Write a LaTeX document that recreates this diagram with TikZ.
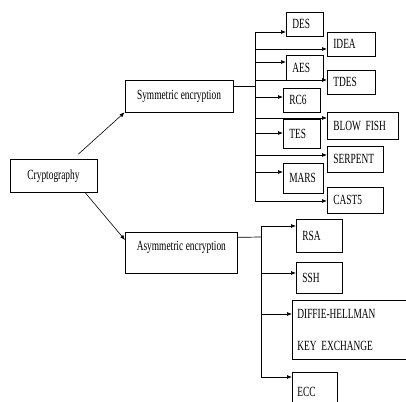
\documentclass[tikz,border=0pt]{standalone}
\usepackage{fontspec}
\setmainfont{Liberation Serif}[FakeStretch=0.67]
\usetikzlibrary{positioning, arrows.meta}

\newcommand\diagfont{\fontsize{14}{16}\selectfont\spaceskip=2.6pt\relax}
\tikzset{
  main/.style={draw, line width=0.7pt, inner sep=0pt},
  leaf/.style={draw, line width=0.7pt, anchor=north west, align=left, inner xsep=6pt, inner ysep=0pt},
  arr/.style={-{Latex[length=5pt,width=4pt]}, line width=0.7pt}
}

\begin{document}
\begin{tikzpicture}[x=1pt, y=-1pt, font=\diagfont]
\useasboundingbox (0,0) rectangle (406,401);
% main boxes
\node[main, minimum width=87pt, minimum height=33pt] (crypto) at (53.5,176) {Cryptography};
\node[main, minimum width=108pt, minimum height=32pt] (sym) at (179,96) {Symmetric encryption};
\node[main, anchor=north west, minimum width=112pt, text height=18pt, text depth=23pt] (asym) at (125,232) {Asymmetric encryption};
% symmetric ciphers
\node[leaf, text width=25pt, minimum height=24pt] (des) at (286,12) {DES};
\node[leaf, text width=36pt, minimum height=24pt] (idea) at (327,32) {IDEA};
\node[leaf, text width=25pt, minimum height=25pt] (aes) at (286,55) {AES};
\node[leaf, text width=36pt, minimum height=24pt] (tdes) at (327,70) {TDES};
\node[leaf, text width=25pt, minimum height=24pt] (rcsix) at (283,88) {RC6};
\node[leaf, text width=59pt, minimum height=27pt] (blowfish) at (327,112) {BLOW FISH};
\node[leaf, text width=25pt, minimum height=29pt] (tes) at (283,119) {TES};
\node[leaf, text width=44pt, minimum height=26pt] (serpent) at (327,146) {SERPENT};
\node[leaf, text width=28pt, minimum height=30pt] (mars) at (283,163) {MARS};
\node[leaf, text width=44pt, minimum height=26pt] (cast) at (327,187) {CAST5};
% asymmetric ciphers
\node[leaf, text width=34pt, minimum height=33pt] (rsa) at (296,219) {RSA};
\node[leaf, text width=34pt, minimum height=31pt] (ssh) at (296,262) {SSH};
\node[leaf, inner xsep=5pt, text width=110pt, minimum height=59pt] (dh) at (292,300) {DIFFIE-HELLMAN\\[16pt]KEY EXCHANGE};
\node[leaf, inner xsep=5pt, text width=35pt, minimum height=40pt] (ecc) at (292,372) {ECC};

\draw[arr, line width=0.6pt] ([xshift=-19pt,yshift=5pt]crypto.north east) -- (sym.south west);
\draw[arr, line width=0.6pt] ([xshift=-12pt]crypto.south east) -- ([yshift=-8pt]asym.north west);

% symmetric branch
\coordinate (st) at (255,0);
\draw[line width=0.7pt] ([yshift=10pt]sym.east) -- (st |- 0,86);
\draw[line width=0.7pt] (st |- 0,32) -- (st |- 0,201);
\foreach \n/\y in {des/32, idea/49, aes/62, tdes/80, rcsix/97, blowfish/118, tes/133, serpent/155, mars/172, cast/201}
  \draw[arr] (st |- 0,\y) -- (\n.west |- 0,\y);

% asymmetric branch
\coordinate (at) at (261,0);
\draw[line width=0.7pt] ([yshift=15.5pt]asym.east) -- (at |- 0,237);
\draw[line width=0.7pt] (at |- 0,226) -- (at |- 0,377);
\foreach \n/\y in {rsa/226, ssh/273, dh/314, ecc/377}
  \draw[arr] (at |- 0,\y) -- (\n.west |- 0,\y);
\end{tikzpicture}
\end{document}
